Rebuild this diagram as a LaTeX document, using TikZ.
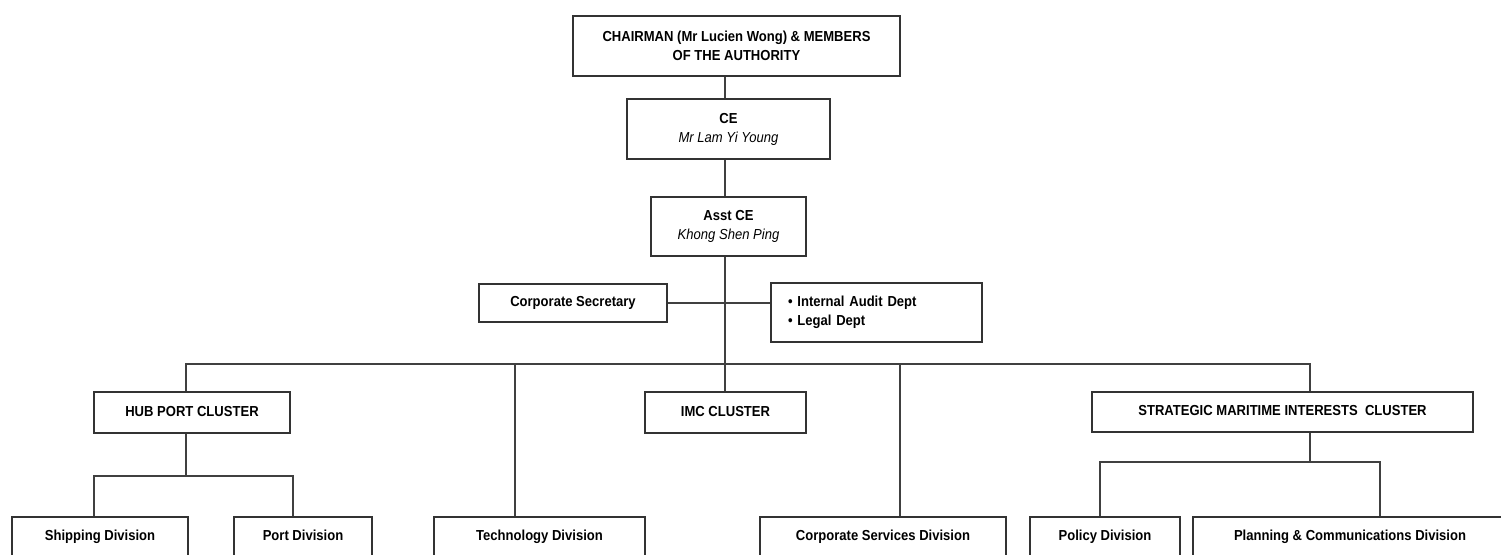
\documentclass[tikz,border=0pt]{standalone}
\usepackage{fontspec}
\setmainfont{Liberation Sans}[FakeStretch=0.9]

\begin{document}
\begin{tikzpicture}[x=1pt,y=-1pt,
		box/.style={draw=black!80,line width=1.5pt,fill=white,inner sep=0pt,minimum height=40pt,align=center,font=\fontsize{14.5}{19}\selectfont\bfseries},
		oneline/.style={box,text height=10.5pt,text depth=3pt},
		link/.style={draw=black!75,line width=1.5pt}]
			\useasboundingbox (0,0) rectangle (1501,554);
			\clip (0,0) rectangle (1501,554);
			\node[box,minimum width=327pt,minimum height=60pt] (chair) at (736.5,46) {CHAIRMAN (Mr Lucien Wong) \& MEMBERS\\OF THE AUTHORITY};
			\node[box,minimum width=203pt,minimum height=60pt] (ce) at (728.5,129) {CE\\{\mdseries\itshape Mr Lam Yi Young}};
			\node[box,minimum width=155pt,minimum height=59pt] (asst) at (728.5,226.5) {Asst CE\\{\mdseries\itshape Khong Shen Ping}};
			\node[oneline,minimum width=188pt,minimum height=38pt] (sec) at (573,303) {Corporate Secretary};
			\node[box,align=left,text width=177pt,inner xsep=17pt,minimum height=59pt] (audit) at (876.5,312.5) {\textbullet\ Internal Audit Dept\\\textbullet\ Legal Dept};
			\node[oneline,minimum width=196pt,minimum height=41pt] (hub) at (192,412.5) {HUB PORT CLUSTER};
			\node[oneline,minimum width=161pt,minimum height=41pt] (imc) at (725.5,412.5) {IMC CLUSTER};
			\node[oneline,minimum width=381pt] (smic) at (1282.5,412) {STRATEGIC MARITIME INTERESTS\ \ CLUSTER};
			\node[oneline,minimum width=176pt] (ship) at (100,537) {Shipping Division};
			\node[oneline,minimum width=138pt] (port) at (303,537) {Port Division};
			\node[oneline,minimum width=211pt] (tech) at (539.5,537) {Technology Division};
			\node[oneline,minimum width=246pt] (corp) at (883,537) {Corporate Services Division};
			\node[oneline,minimum width=150pt] (policy) at (1105,537) {Policy Division};
			\node[oneline,minimum width=314pt] (plan) at (1350,537) {Planning \& Communications Division};
			\coordinate (spine) at (725,364);
			\coordinate (b1) at (186,364);
			\coordinate (b2) at (515,364);
			\coordinate (b3) at (900,364);
			\coordinate (b4) at (1310,364);
			\coordinate (h0) at (186,476);
			\coordinate (h1) at (94,476);
			\coordinate (h2) at (293,476);
			\coordinate (s0) at (1310,462);
			\coordinate (s1) at (1100,462);
			\coordinate (s2) at (1380,462);
			\draw[link] (chair.south -| spine) -- (ce.north -| spine);
			\draw[link] (ce.south -| spine) -- (asst.north -| spine);
			\draw[link] (asst.south -| spine) -- (imc.north -| spine);
			\draw[link] (sec.east) -- (audit.west |- sec.east);
			\draw[link] (b1 |- hub.north) -- (b1) -- (b4) -- (b4 |- smic.north);
			\draw[link] (b2) -- (b2 |- tech.north);
			\draw[link] (b3) -- (b3 |- corp.north);
			\draw[link] (h0 |- hub.south) -- (h0);
			\draw[link] (h1 |- ship.north) -- (h1) -- (h2) -- (h2 |- port.north);
			\draw[link] (s0 |- smic.south) -- (s0);
			\draw[link] (s1 |- policy.north) -- (s1) -- (s2) -- (s2 |- plan.north);
		\end{tikzpicture}
\end{document}
